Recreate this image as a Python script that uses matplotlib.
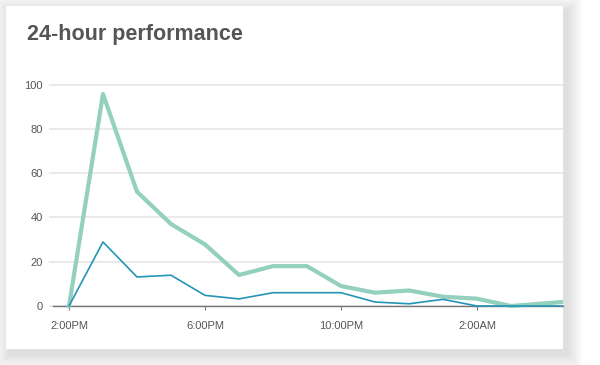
import matplotlib
matplotlib.use("Agg")
import matplotlib.pyplot as plt
from matplotlib.patches import Rectangle
import numpy as np

# ---- data ----
hours = ["2PM", "3PM", "4PM", "5PM", "6PM", "7PM", "8PM", "9PM", "10PM",
         "11PM", "12AM", "1AM", "2AM", "3AM", "4AM", "5AM"]
series_a = [0, 95.7, 51.6, 37, 27.8, 14, 18, 18, 9, 6, 7, 4.2, 3.3, 0, 1.2, 2.4]
series_b = [0, 28.9, 13.1, 13.9, 4.8, 3.2, 6, 6, 6, 1.8, 1, 3, 0, 0, 0, 0]
tick_labels = ["2:00PM", "6:00PM", "10:00PM", "2:00AM"]
tick_hours = ["2PM", "6PM", "10PM", "2AM"]
y_ticks = [0, 20, 40, 60, 80, 100]
title = "24-hour performance"

W, H = 600, 365
fig = plt.figure(figsize=(W / 100, H / 100), dpi=100)
fig.patch.set_facecolor("white")
plt.rcParams["font.family"] = ["Liberation Sans", "DejaVu Sans"]

def fx(px):
    return px / W

def fy(py):
    return 1 - py / H

# ---- card with soft shadow ----
cl, ct, cr, cb = 6, 6, 563, 349
dx, dy = 4, 5
for i in range(16, 0, -1):
    r = Rectangle((fx(cl + dx - i), fy(cb + dy + i)),
                  fx(cr - cl + 2 * i), (cb - ct + 2 * i) / H,
                  transform=fig.transFigure, facecolor="black",
                  edgecolor="none", alpha=0.008, zorder=0)
    fig.patches.append(r)
card = Rectangle((fx(cl), fy(cb)), fx(cr - cl), (cb - ct) / H,
                 transform=fig.transFigure, facecolor="white",
                 edgecolor="none", zorder=1)
fig.patches.append(card)

# ---- axes geometry ----
px_per_hour = 34.0
x0_px = 69
ax_left_px, ax_right_px = 49, 563
unit = 2.215
y0_px = 306
ylo, yhi = -3, 110
ax_bottom_px = y0_px - ylo * unit
ax_top_px = y0_px - yhi * unit

ax = fig.add_axes([fx(ax_left_px), fy(ax_bottom_px),
                   fx(ax_right_px - ax_left_px), (ax_bottom_px - ax_top_px) / H])
ax.set_facecolor("none")
ax.set_zorder(2)

x = np.arange(len(hours))
ax.plot(x, series_a, color="#93d0bd", lw=3.0, zorder=3)
ax.plot(x, series_b, color="#2494b8", lw=1.2, zorder=4)

ax.set_xlim((ax_left_px - x0_px) / px_per_hour, (ax_right_px - x0_px) / px_per_hour)
ax.set_ylim(ylo, yhi)

ax.set_yticks(y_ticks)
ax.set_yticklabels([str(v) for v in y_ticks])
ax.set_xticks([hours.index(h) for h in tick_hours])
ax.set_xticklabels(tick_labels)

for s in ["top", "right", "left"]:
    ax.spines[s].set_visible(False)
ax.spines["bottom"].set_position(("data", 0))
ax.spines["bottom"].set_color("#777777")
ax.spines["bottom"].set_linewidth(1.0)
ax.spines["bottom"].set_bounds((53 - x0_px) / px_per_hour, (ax_right_px - x0_px) / px_per_hour)

ax.grid(axis="y", color="#e4e4e4", lw=1.1)
ax.set_axisbelow(True)

ax.tick_params(axis="y", length=0, pad=4.3, labelsize=8, labelcolor="#555555")
ax.tick_params(axis="x", length=3, width=0.8, color="#777777", pad=8,
               labelsize=8, labelcolor="#555555")

fig.text(fx(27), fy(40), title, fontsize=15.5, fontweight="bold",
         color="#555555", va="baseline", ha="left", zorder=5)

fig.savefig("out.png", dpi=100, facecolor="white")
